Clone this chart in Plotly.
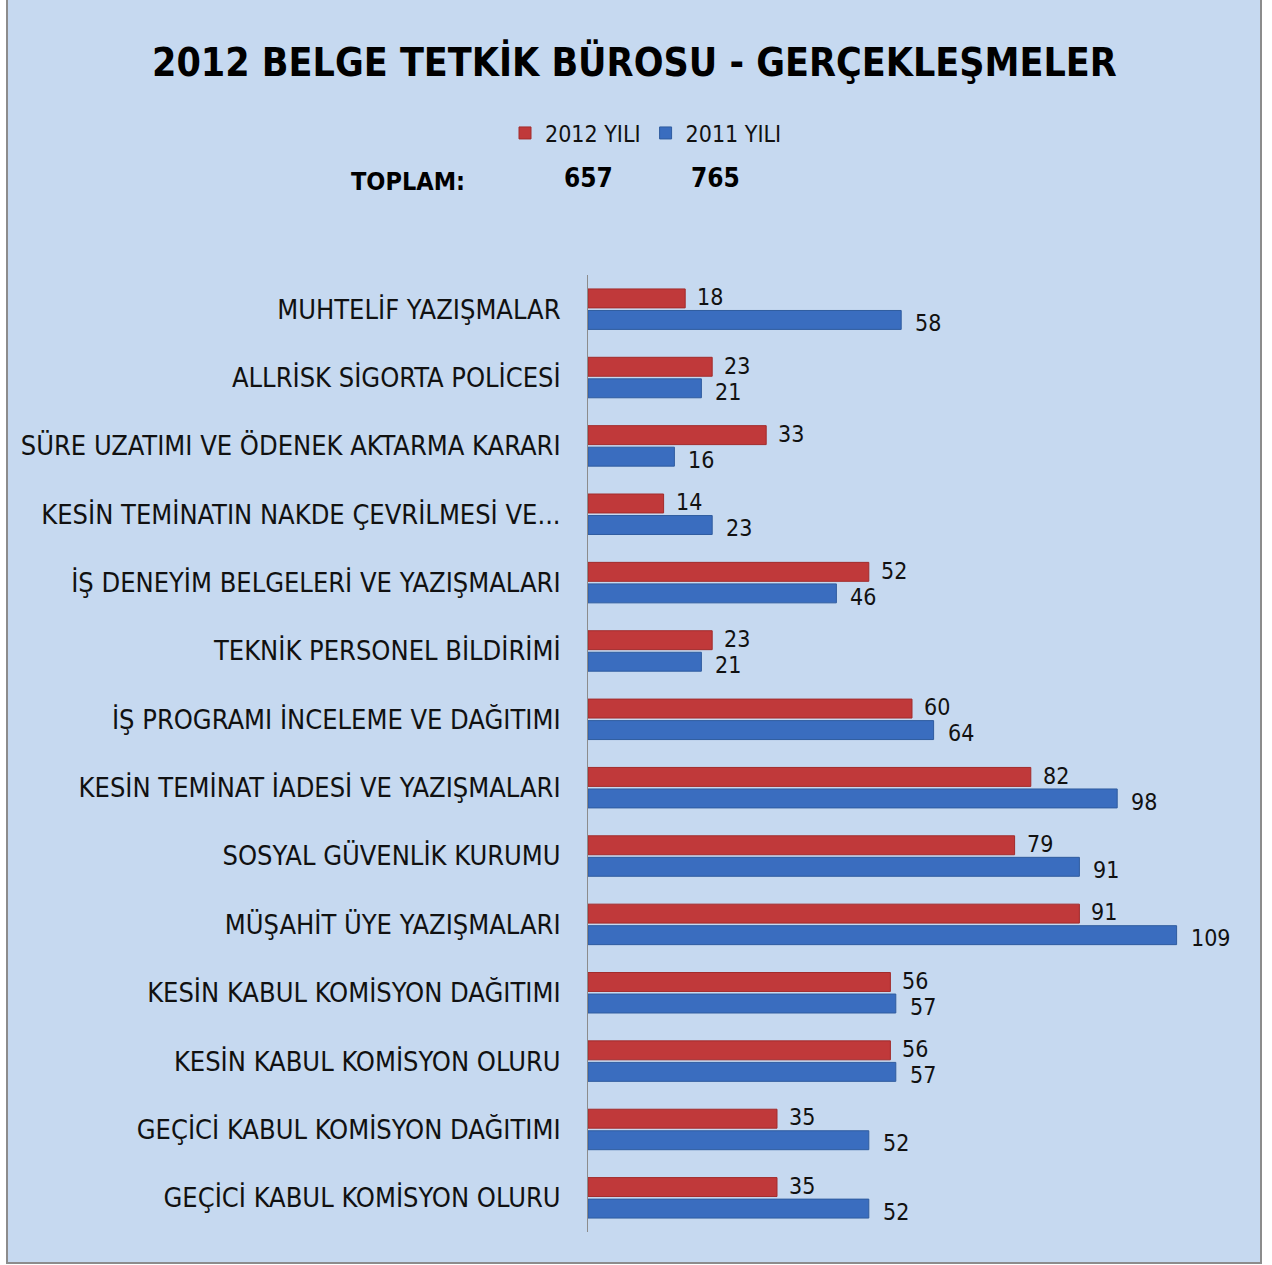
import plotly.graph_objects as go

categories = [
    "MUHTELİF YAZIŞMALAR",
    "ALLRİSK SİGORTA POLİCESİ",
    "SÜRE UZATIMI VE ÖDENEK AKTARMA KARARI",
    "KESİN TEMİNATIN NAKDE ÇEVRİLMESİ VE...",
    "İŞ DENEYİM BELGELERİ VE YAZIŞMALARI",
    "TEKNİK PERSONEL BİLDİRİMİ",
    "İŞ PROGRAMI İNCELEME VE DAĞITIMI",
    "KESİN TEMİNAT İADESİ VE YAZIŞMALARI",
    "SOSYAL GÜVENLİK KURUMU",
    "MÜŞAHİT ÜYE YAZIŞMALARI",
    "KESİN KABUL KOMİSYON DAĞITIMI",
    "KESİN KABUL KOMİSYON OLURU",
    "GEÇİCİ KABUL KOMİSYON DAĞITIMI",
    "GEÇİCİ KABUL KOMİSYON OLURU",
]
values_2012 = [18, 23, 33, 14, 52, 23, 60, 82, 79, 91, 56, 56, 35, 35]
values_2011 = [58, 21, 16, 23, 46, 21, 64, 98, 91, 109, 57, 57, 52, 52]
series_names = ["2012 YILI", "2011 YILI"]
totals = ["657", "765"]
title_text = "2012 BELGE TETKİK BÜROSU - GERÇEKLEŞMELER"

FONT = "DejaVu Sans Condensed, Liberation Sans Narrow, sans-serif"
RED = "#C0393A"
BLUE = "#3A6DBF"
BG = "#C6D9F0"

W, H = 1272, 1265
L, R, T, B = 588, 36, 275, 33
pw = W - L - R
ph = H - T - B

def px2paper_x(px):
    return (px - L) / pw

def px2paper_y(py):
    return (H - B - py) / ph

fig = go.Figure()
fig.add_trace(go.Bar(
    y=categories, x=values_2012, name=series_names[0], orientation="h",
    marker=dict(color=RED, line=dict(color="#A22C2C", width=1)),
))
fig.add_trace(go.Bar(
    y=categories, x=values_2011, name=series_names[1], orientation="h",
    marker=dict(color=BLUE, line=dict(color="#2F5C9F", width=1)),
))

annotations = []
for c, v in zip(categories, values_2012):
    annotations.append(dict(x=v, y=c, xref="x", yref="y", text=str(v), showarrow=False,
                            xanchor="left", yanchor="middle", xshift=11, yshift=12, borderpad=0,
                            font=dict(family=FONT, size=23, color="#111111")))
for c, v in zip(categories, values_2011):
    annotations.append(dict(x=v, y=c, xref="x", yref="y", text=str(v), showarrow=False,
                            xanchor="left", yanchor="middle", xshift=13, yshift=-14, borderpad=0,
                            font=dict(family=FONT, size=23, color="#111111")))

annotations.append(dict(x=px2paper_x(634), y=px2paper_y(62), xref="paper", yref="paper",
                        text="<b>" + title_text + "</b>", showarrow=False,
                        xanchor="center", yanchor="middle",
                        font=dict(family=FONT, size=39, color="#000000")))
annotations.append(dict(x=px2paper_x(408), y=px2paper_y(181), xref="paper", yref="paper",
                        text="<b>TOPLAM:</b>", showarrow=False, xanchor="center", yanchor="middle",
                        font=dict(family=FONT, size=25, color="#000000")))
for t, cx in zip(totals, [588, 715]):
    annotations.append(dict(x=px2paper_x(cx), y=px2paper_y(178), xref="paper", yref="paper",
                            text="<b>" + t + "</b>", showarrow=False, xanchor="center", yanchor="middle",
                            font=dict(family=FONT, size=26, color="#000000")))

shapes = [dict(type="rect", xref="paper", yref="paper",
               x0=px2paper_x(7), x1=px2paper_x(1261), y0=px2paper_y(1263), y1=px2paper_y(-10),
               fillcolor=BG, line=dict(color="#8C8C8C", width=2), layer="below")]

fig.update_layout(
    width=W, height=H,
    margin=dict(l=L, r=R, t=T, b=B, pad=0, autoexpand=False),
    paper_bgcolor="white",
    plot_bgcolor="rgba(0,0,0,0)",
    barmode="group",
    bargap=0.37,
    bargroupgap=0.12,
    showlegend=True,
    legend=dict(orientation="h", xref="container", yref="container",
                x=505 / W, y=1 - 133 / H, xanchor="left", yanchor="middle",
                font=dict(family=FONT, size=23, color="#111111"),
                bgcolor="rgba(0,0,0,0)", itemwidth=30, tracegroupgap=0),
    xaxis=dict(range=[0, 120], showgrid=False, zeroline=False, showticklabels=False,
               showline=False, ticks="", automargin=False),
    yaxis=dict(autorange="reversed", showgrid=False, zeroline=False, automargin=False,
               showline=True, linecolor="#8C8C8C", linewidth=1,
               ticks="outside", ticklen=21, tickcolor="rgba(0,0,0,0)",
               tickfont=dict(family=FONT, size=27, color="#111111")),
    annotations=annotations,
    shapes=shapes,
)

fig.write_html("out.html", config={"displayModeBar": False},
               post_script="document.body.style.margin='0';document.body.style.overflow='hidden';")
